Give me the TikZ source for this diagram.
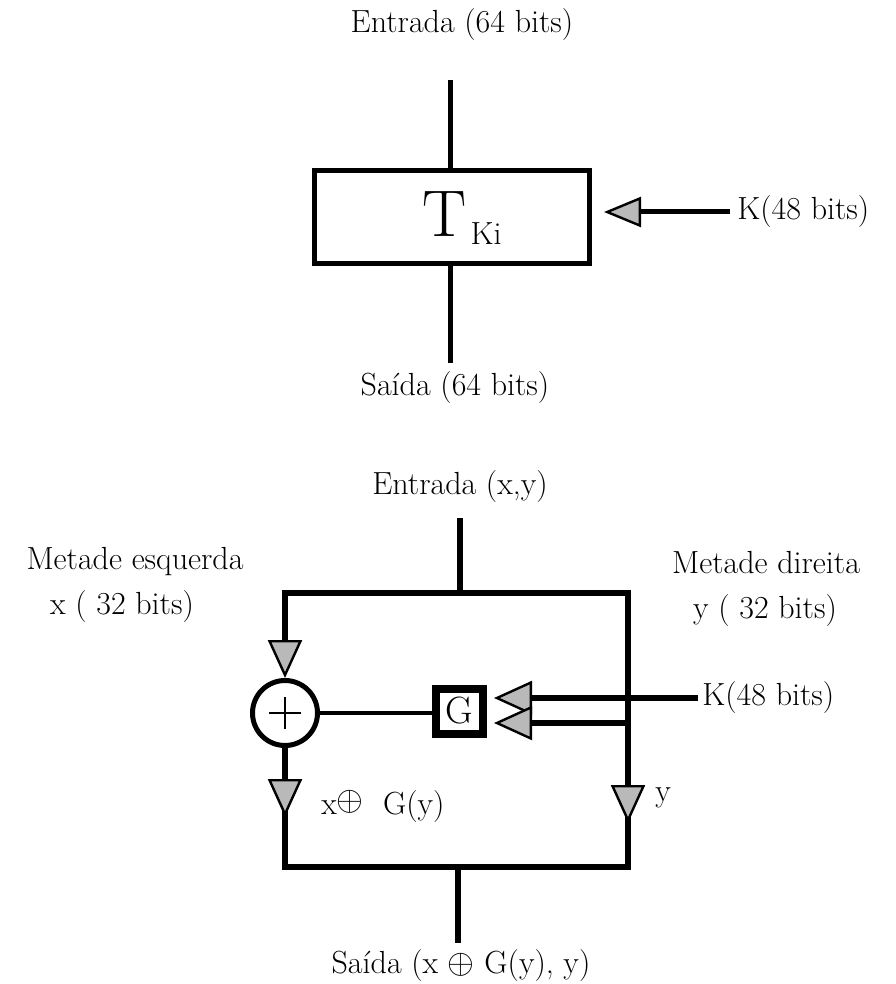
\documentclass[tikz,border=0pt]{standalone}
\usetikzlibrary{arrows.meta}
\begin{document}
\begin{tikzpicture}[x=0.5pt,y=-0.5pt,
  lbl/.style={font=\fontsize{16}{19}\selectfont, inner sep=0pt},
  thinl/.style={line width=2.5pt},
  thickl/.style={line width=3pt, line join=miter},
  tiptop/.style={-{Triangle[length=18.5pt,width=15pt,fill=gray!55,line width=1.2pt]}},
  tipb/.style={-{Triangle[length=19pt,width=17pt,fill=gray!55,line width=1.2pt]}},
]
\useasboundingbox (0,0) rectangle (895,984);

% ---------- upper diagram ----------
\node[lbl] (in1) at (462,25) {Entrada (64 bits)};
\coordinate (in1e) at (450,80);
\node[draw, line width=2.5pt, minimum width=137.5pt, minimum height=46.5pt, inner sep=0pt] (T) at (452,217) {};
\node[inner sep=0pt] (Tlbl) at (462,218) {{\fontsize{33}{36}\selectfont T}\kern2pt\raisebox{-4pt}{\fontsize{16}{18}\selectfont Ki}};
\coordinate (out1s) at (450,363);
\draw[thinl] (in1e) -- (in1e |- T.north);
\draw[thinl] (T.south -| in1e) -- (out1s);
\node[lbl] (out1) at (455,388) {Saída (64 bits)};
\node[lbl, anchor=west] (k1) at (737,212) {K(48 bits)};
\draw[thinl, tiptop] ([xshift=-3.5pt]k1.west) -- ([xshift=6pt]T.east |- k1.west);

% ---------- lower diagram ----------
\node[lbl] (in2) at (460,487) {Entrada (x,y)};
\coordinate (in2e) at (460,518);
\coordinate (tl) at (285,593);
\coordinate (tr) at (628,593);
\coordinate (bl) at (285,867);
\coordinate (br) at (628,867);
\coordinate (lar) at (285,817);
\coordinate (rar) at (628,823);
\coordinate (lmid) at (285,795);
\coordinate (rmid) at (628,800);
\coordinate (kl) at (628,723);
\coordinate (out2s) at (458,943);

\node[circle, draw, line width=2.5pt, minimum size=32.5pt, inner sep=0pt] (xor) at (285,713) {};
\draw[line width=0.6pt] ([xshift=-8pt]xor.center) -- ([xshift=8pt]xor.center);
\draw[line width=0.6pt] ([yshift=-8pt]xor.center) -- ([yshift=8pt]xor.center);

\node[draw, line width=4pt, minimum width=23.5pt, minimum height=22.5pt, inner sep=0pt,
      font=\fontsize{19}{21}\selectfont] (G) at (459.5,711) {G};

% loop below the arrows first, arrows drawn on top
\draw[thickl] (lmid) -- (bl) -- (br) -- (rmid);
\draw[thickl] (out2s |- bl) -- (out2s);
\draw[thickl] (in2e) -- (in2e |- tl);
\draw[thickl, tipb] (in2e |- tl) -- (tl) -- (xor.north);
\draw[thickl, tipb] (in2e |- tl) -- (tr) -- (rar);
\draw[thickl, tipb] (xor.south) -- (lar);
\draw[line width=2pt] (xor.east) -- (xor.east -| G.west);

\node[lbl, anchor=west] (k2) at (702,698) {K(48 bits)};
\draw[thickl, tipb] ([xshift=-2pt]k2.west) -- ([xshift=3.5pt]G.east |- k2.west);
\draw[thickl, tipb] (kl) -- ([xshift=3.5pt]G.east |- kl);

\node[lbl] (le1) at (135,562) {Metade esquerda};
\node[lbl] (le2) at (122,607) {x ( 32 bits)};
\node[lbl] (ri1) at (766,563) {Metade direita};
\node[lbl] (ri2) at (765,611) {y ( 32 bits)};
\node[lbl] (xg) at (383,806) {x\raisebox{2pt}{$\oplus$}\ \ G(y)};
\node[lbl] (ylab) at (663,798) {y};
\node[lbl] (out2) at (461,966) {Saída (x $\oplus$ G(y), y)};
\end{tikzpicture}
\end{document}
